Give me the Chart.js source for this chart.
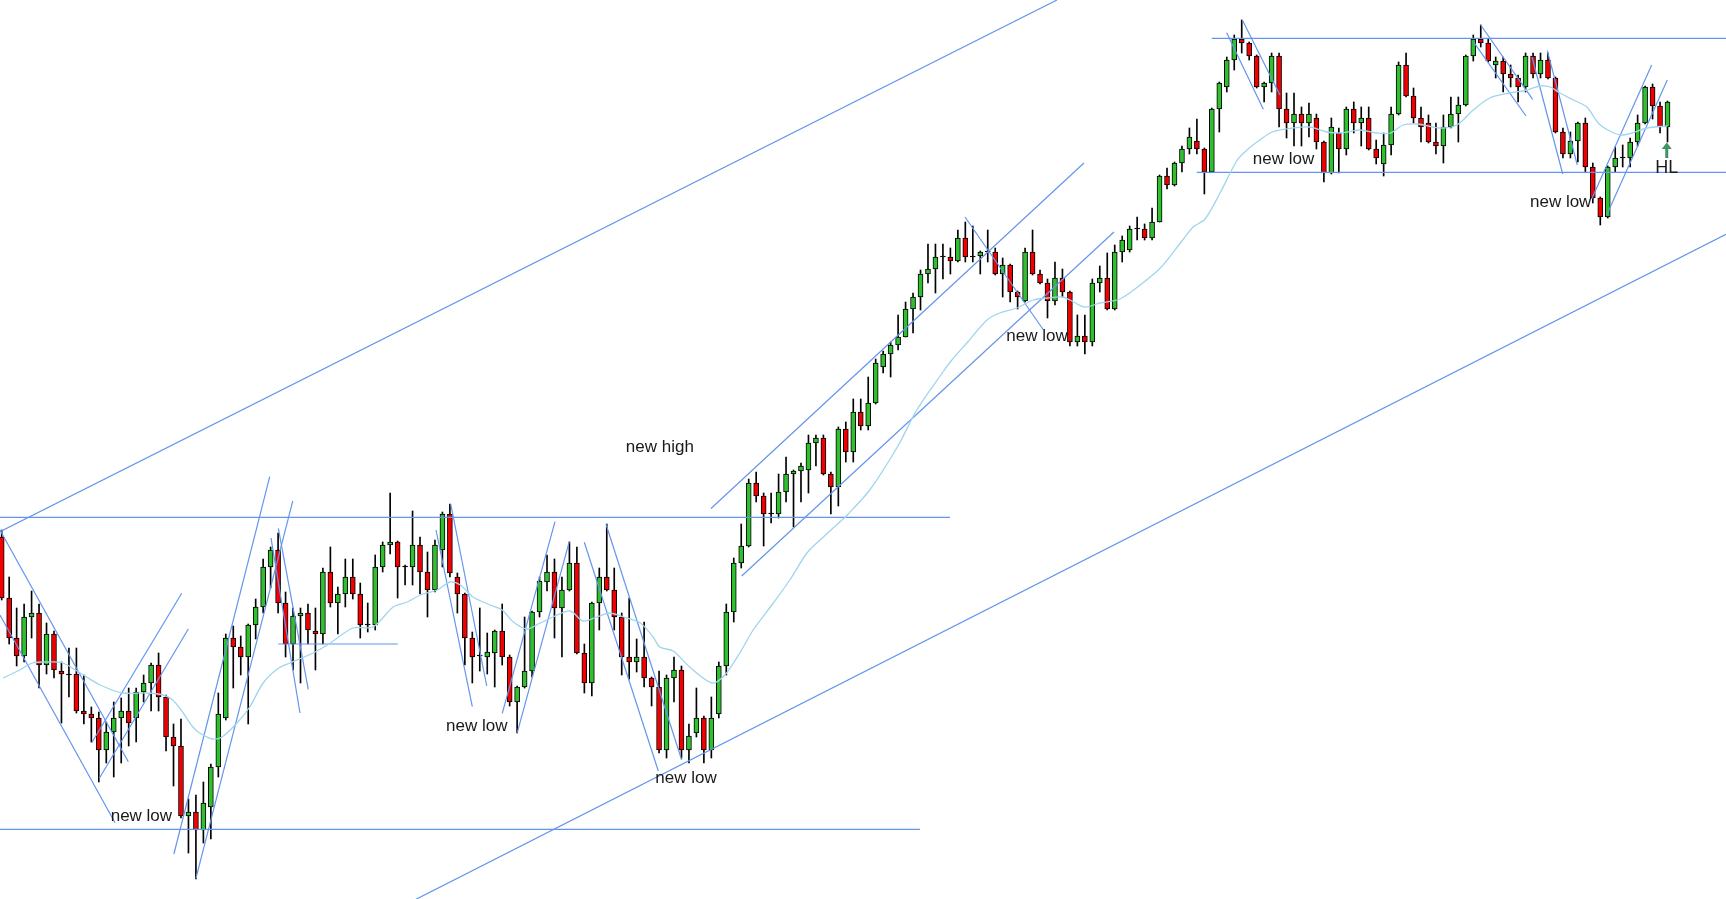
<!DOCTYPE html>
<html>
<head>
<meta charset="utf-8">
<script src="https://cdn.jsdelivr.net/npm/chart.js@4.4.1/dist/chart.umd.min.js"></script>
<style>
  html, body { margin: 0; padding: 0; background: #fff; overflow: hidden; }
  canvas { display: block; }
</style>
</head>
<body>
<canvas id="chart" width="1726" height="899"></canvas>
<script>
// price data (no axis shown, so the unit is arbitrary)
const open = [
  363, 302, 262, 244, 283, 287, 235, 266, 229, 226,
  226, 189, 186, 182, 150, 168, 182, 189, 182, 208,
  217, 235, 203, 163, 154, 84, 88, 70, 93, 133,
  182, 262, 253, 243, 275, 293, 333, 350, 297, 256,
  284, 287, 269, 266, 328, 297, 306, 323, 306, 275,
  275, 333, 355, 358, 334, 333, 355, 328, 310, 350,
  386, 323, 306, 262, 245, 243, 247, 269, 243, 198,
  213, 229, 288, 318, 328, 292, 310, 337, 247, 217,
  297, 323, 310, 283, 243, 238, 243, 222, 213, 150,
  222, 230, 150, 167, 182, 150, 186, 234, 288, 337,
  354, 417, 404, 386, 386, 408, 426, 429, 430, 457,
  462, 426, 413, 471, 448, 488, 474, 497, 533, 546,
  555, 563, 591, 603, 626, 631, 643, 643, 639, 662,
  643, 644, 648, 648, 626, 635, 608, 599, 648, 626,
  617, 599, 622, 608, 558, 564, 558, 617, 622, 591,
  648, 650, 671, 671, 662, 678, 724, 715, 737, 751,
  759, 751, 728, 791, 813, 840, 861, 857, 844, 813,
  817, 844, 791, 777, 786, 777, 782, 758, 727, 767,
  751, 791, 777, 782, 751, 736, 755, 786, 835, 804,
  782, 777, 758, 754, 773, 786, 795, 844, 861, 857,
  835, 839, 826, 822, 813, 844, 826, 840, 822, 768,
  746, 759, 777, 733, 702, 683, 733, 742, 742, 758,
  777, 813, 794, 773
];
const high = [
  370, 323, 292, 296, 309, 296, 277, 269, 238, 252,
  252, 225, 193, 188, 178, 198, 202, 212, 212, 225,
  237, 247, 205, 176, 181, 101, 105, 118, 136, 207,
  266, 274, 264, 276, 301, 341, 353, 367, 308, 292,
  292, 296, 292, 332, 353, 313, 341, 341, 317, 297,
  345, 358, 407, 359, 335, 389, 363, 348, 360, 388,
  396, 327, 307, 268, 292, 267, 270, 296, 245, 214,
  283, 289, 323, 345, 341, 323, 358, 353, 256, 298,
  332, 376, 332, 287, 302, 261, 278, 223, 229, 225,
  243, 234, 176, 212, 184, 203, 238, 296, 342, 376,
  421, 428, 407, 407, 426, 443, 430, 437, 465, 465,
  465, 428, 473, 478, 501, 501, 523, 541, 549, 558,
  585, 598, 607, 630, 656, 656, 656, 652, 670, 678,
  674, 649, 670, 652, 642, 636, 609, 652, 670, 630,
  621, 638, 631, 609, 585, 585, 621, 634, 647, 655,
  664, 674, 683, 676, 692, 725, 732, 738, 754, 772,
  781, 752, 792, 818, 843, 865, 880, 858, 845, 818,
  847, 847, 807, 807, 793, 797, 786, 759, 782, 772,
  793, 798, 793, 793, 760, 767, 793, 838, 847, 812,
  793, 785, 777, 785, 803, 803, 845, 865, 875, 861,
  843, 843, 835, 825, 847, 847, 847, 847, 823, 772,
  768, 778, 782, 737, 703, 734, 753, 755, 762, 785,
  814, 816, 798, 799
];
const low = [
  300, 256, 234, 238, 262, 212, 226, 222, 177, 203,
  187, 176, 158, 118, 137, 123, 137, 154, 158, 198,
  189, 189, 149, 114, 82, 47, 21, 57, 61, 123,
  180, 212, 225, 176, 261, 287, 312, 287, 243, 230,
  217, 256, 230, 256, 293, 266, 293, 301, 262, 268,
  270, 328, 346, 302, 315, 315, 306, 283, 308, 333,
  323, 287, 235, 217, 229, 226, 213, 235, 194, 167,
  212, 223, 283, 309, 262, 243, 309, 246, 207, 204,
  270, 309, 270, 225, 221, 228, 213, 194, 147, 142,
  198, 142, 137, 163, 137, 142, 182, 225, 278, 332,
  353, 398, 354, 377, 382, 398, 373, 398, 407, 434,
  425, 386, 394, 438, 438, 470, 470, 496, 527, 523,
  550, 563, 567, 590, 617, 607, 621, 626, 638, 638,
  638, 626, 638, 625, 603, 598, 591, 598, 625, 616,
  582, 595, 603, 554, 554, 546, 554, 608, 590, 590,
  638, 648, 660, 660, 660, 678, 711, 714, 728, 746,
  746, 706, 728, 768, 808, 830, 847, 840, 812, 798,
  808, 773, 762, 754, 754, 763, 751, 718, 726, 727,
  745, 767, 754, 750, 736, 724, 745, 785, 803, 777,
  758, 757, 746, 737, 772, 758, 794, 839, 853, 838,
  822, 808, 813, 798, 808, 822, 822, 821, 767, 742,
  742, 738, 728, 697, 675, 682, 728, 733, 733, 754,
  776, 781, 767, 758
];
const close = [
  302, 262, 244, 283, 287, 235, 266, 230, 226, 225,
  189, 186, 182, 150, 168, 182, 189, 177, 208, 217,
  235, 203, 163, 154, 84, 88, 70, 97, 133, 186,
  262, 253, 243, 275, 293, 333, 350, 297, 256, 284,
  287, 270, 266, 328, 297, 306, 323, 306, 275, 276,
  333, 355, 358, 333, 333, 355, 328, 310, 355, 386,
  327, 306, 262, 243, 244, 248, 269, 243, 198, 213,
  229, 288, 319, 328, 292, 310, 337, 247, 217, 297,
  323, 310, 283, 243, 238, 243, 222, 213, 150, 222,
  230, 150, 164, 182, 150, 182, 234, 288, 337, 354,
  417, 404, 386, 387, 408, 426, 429, 434, 457, 462,
  426, 413, 471, 448, 488, 474, 497, 537, 546, 555,
  563, 591, 603, 626, 631, 643, 644, 639, 662, 643,
  644, 648, 649, 626, 635, 608, 603, 648, 626, 617,
  599, 622, 608, 558, 564, 558, 617, 622, 591, 648,
  660, 671, 672, 662, 678, 724, 715, 737, 751, 763,
  751, 728, 791, 817, 840, 861, 857, 844, 813, 817,
  844, 791, 777, 786, 777, 786, 758, 727, 773, 751,
  791, 777, 782, 751, 742, 755, 786, 835, 804, 782,
  773, 758, 754, 773, 786, 795, 844, 861, 857, 839,
  839, 826, 822, 813, 844, 826, 840, 822, 768, 746,
  759, 777, 733, 702, 683, 733, 742, 743, 758, 777,
  813, 794, 773, 798
];

// 20-bar moving average (bar index, value)
const maIdx = [
  0.2, 2.4, 4.1, 6.1, 8.2, 10.5, 13.2, 16.2, 19.4, 21.6, 22.9, 24.3, 25.6, 26.5, 28.2, 29.5,
  31.5, 33.2, 35.0, 36.9, 38.6, 41.7, 44.0, 47.0, 49.7, 52.4, 54.3, 56.0, 58.3, 60.0, 61.4,
  63.1, 65.4, 67.0, 68.5, 70.3, 72.1, 73.8, 76.1, 77.8, 79.7, 81.4, 83.2, 85.5, 87.2, 88.1,
  89.9, 92.1, 95.1, 96.8, 98.8, 100.6, 103.3, 105.5, 107.8, 110.0, 112.2, 113.2, 116.2, 119.9,
  122.5, 126.0, 127.2, 129.2, 131.9, 133.6, 135.9, 138.1, 140.0, 142.0, 143.0, 145.0, 147.0,
  149.7, 152.4, 155.1, 158.1, 159.5, 161.1, 163.1, 165.4, 166.7, 168.4, 170.1, 172.9, 175.1,
  177.4, 179.2, 181.8, 184.1, 185.9, 187.6, 189.5, 192.5, 194.8, 197.0, 199.2, 201.9, 204.2,
  205.9, 207.3, 208.6, 210.4, 212.2, 214.0, 216.9, 220.3, 223.0
];
const maVal = [
  222, 230, 237, 238, 237, 227, 215, 207, 207, 205, 200, 187, 173, 167, 161, 163,
  177, 193, 217, 231, 237, 247, 257, 272, 273, 293, 298, 305, 310, 318, 315,
  303, 295, 290, 278, 271, 277, 283, 289, 279, 283, 287, 283, 277, 263, 253,
  249, 233, 217, 225, 247, 270, 297, 320, 347, 363, 378, 385, 410, 453,
  490, 528, 540, 557, 580, 587, 592, 600, 602, 603, 600, 593, 597,
  601, 615, 632, 660, 673, 681, 707, 740, 750, 760, 768, 772, 773,
  768, 767, 770, 767, 767, 775, 776, 772, 775, 790, 802, 807, 810,
  814, 813, 807, 800, 793, 775, 765, 772, 774
];

// drawn trendlines and levels: [bar1, value1, bar2, value2]
const trendLines = [
  [-0.23, 368.4, 141.27, 900],
  [55.46, 0.7, 230.83, 665.6],
  [-0.23, 382.7, 126.95, 382.7],
  [-0.23, 70.7, 122.93, 70.7],
  [37.03, 256, 53.01, 256],
  [161.98, 861.7, 230.83, 861.7],
  [159.97, 727.7, 230.83, 727.7],
  [-0.23, 370, 16.95, 138.3],
  [-0.23, 285, 15.17, 77.3],
  [12.05, 157.3, 24.1, 306.7],
  [13.07, 121.7, 24.98, 271],
  [23.05, 46, 35.88, 423.4],
  [26.0, 21.6, 38.97, 399.2],
  [37.03, 371.7, 41.04, 210.7],
  [36.05, 362, 39.93, 187],
  [60.11, 396, 64.93, 214],
  [58.14, 370, 63.0, 193.3],
  [67.01, 186.7, 74.07, 378.3],
  [69.02, 167.3, 75.98, 358.3],
  [77.99, 357.7, 87.9, 129],
  [80.9, 375.7, 91.03, 140],
  [94.95, 391.5, 144.88, 737],
  [99.06, 324, 148.9, 668],
  [128.96, 683, 139.46, 570],
  [163.99, 867.3, 168.89, 790.7],
  [166.08, 880, 171.12, 805],
  [197.99, 875, 204.95, 800.7],
  [197.0, 858.3, 204.06, 784],
  [204.86, 843, 208.97, 726],
  [206.91, 849.3, 210.92, 735],
  [212.85, 701, 220.88, 835],
  [214.86, 685, 222.97, 820]
];

// notes written on the chart
const noteText = ['new low', 'new low', 'new high', 'new low', 'new low', 'new low', 'new low', 'HL'];
const noteIdx = [18.7, 63.6, 88.1, 91.6, 138.6, 171.6, 208.7, 222.9];
const noteVal = [79, 169, 448, 117, 559, 736, 693, 727];

const GREEN = '#2fbf2f';
const RED = '#f00000';
const LINE_BLUE = '#6495ed';
const MA_BLUE = '#9fd5ee';

const bars = open.map((_, i) => i);
const bodyColors = bars.map(i => {
    if (Math.abs(close[i] - open[i]) <= 1) return '#000';
    return close[i] > open[i] ? GREEN : RED;
});

const datasets = [
    {
        type: 'bar',
        data: bars.map(i => ({ x: i, y: [open[i], close[i]] })),
        backgroundColor: bodyColors,
        borderColor: '#000',
        borderWidth: 1,
        borderSkipped: false,
        barThickness: 5,
        grouped: false,
        order: 1
    },
    {
        type: 'bar',
        data: bars.map(i => ({ x: i, y: [low[i], high[i]] })),
        backgroundColor: '#000',
        borderWidth: 0,
        barThickness: 1,
        grouped: false,
        order: 2
    },
    {
        type: 'line',
        data: maIdx.map((x, k) => ({ x: x, y: maVal[k] })),
        borderColor: MA_BLUE,
        borderWidth: 1.3,
        pointRadius: 0,
        tension: 0.3,
        order: 0
    }
];

trendLines.forEach(t => {
    datasets.push({
        type: 'line',
        data: [{ x: t[0], y: t[1] }, { x: t[2], y: t[3] }],
        borderColor: LINE_BLUE,
        borderWidth: 1.2,
        pointRadius: 0,
        order: 0
    });
});

// text notes and the little "HL" arrow
const notesPlugin = {
    id: 'notes',
    afterDatasetsDraw(chart) {
        const { ctx, scales } = chart;
        ctx.save();
        ctx.fillStyle = '#1a1a1a';
        ctx.textAlign = 'center';
        ctx.textBaseline = 'alphabetic';
        noteText.forEach((t, k) => {
            ctx.font = (t === 'HL' ? '18px' : '17px') + ' "Liberation Sans", Arial, sans-serif';
            ctx.fillText(t, scales.x.getPixelForValue(noteIdx[k]), scales.y.getPixelForValue(noteVal[k]));
        });

        const ax = scales.x.getPixelForValue(222.9);
        const yBase = scales.y.getPixelForValue(742);
        const yNeck = scales.y.getPixelForValue(751);
        const yTip = scales.y.getPixelForValue(757.5);
        ctx.fillStyle = '#3f9463';
        ctx.fillRect(ax - 1.5, yNeck, 3, yBase - yNeck);
        ctx.beginPath();
        ctx.moveTo(ax, yTip);
        ctx.lineTo(ax + 5, yNeck);
        ctx.lineTo(ax - 5, yNeck);
        ctx.closePath();
        ctx.fill();
        ctx.restore();
    }
};

new Chart(document.getElementById('chart'), {
    type: 'bar',
    data: { datasets: datasets },
    options: {
        responsive: false,
        animation: false,
        events: [],
        layout: { padding: 0 },
        scales: {
            x: { type: 'linear', min: -0.2276, max: 230.83, offset: false, display: false },
            y: { type: 'linear', min: 1, max: 900, display: false }
        },
        plugins: {
            legend: { display: false },
            tooltip: { enabled: false }
        }
    },
    plugins: [notesPlugin]
});
</script>
</body>
</html>
